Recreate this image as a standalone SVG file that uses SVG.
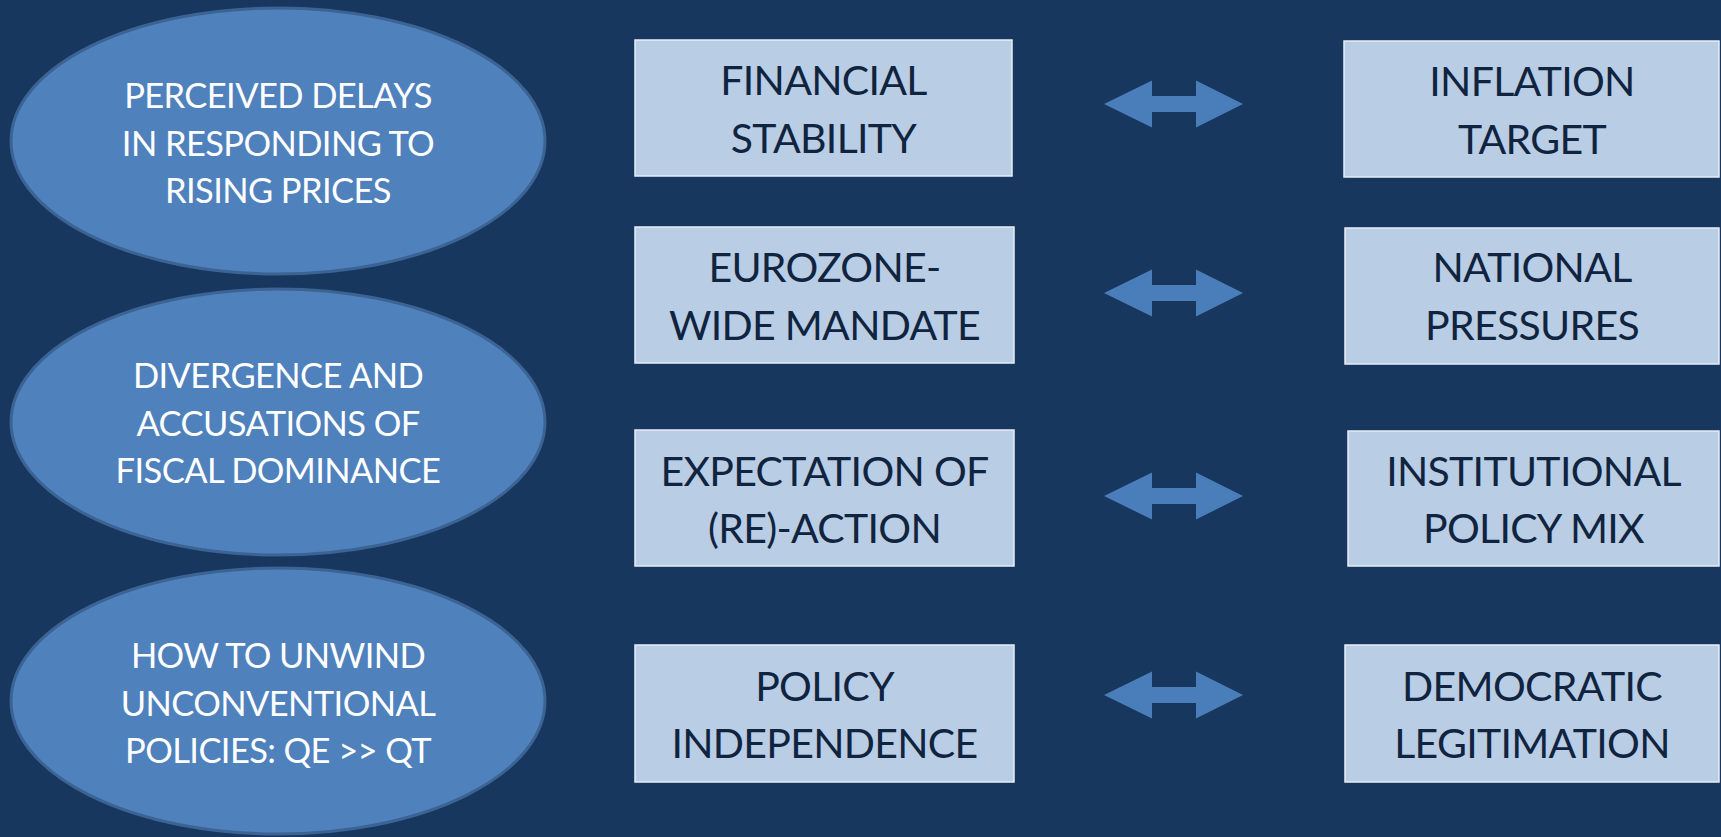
<svg xmlns="http://www.w3.org/2000/svg" xmlns:xlink="http://www.w3.org/1999/xlink" width="1721" height="837" viewBox="0 0 1721 837">
  <style>
    .issue { fill: #4f81bd; stroke: #3b6393; stroke-width: 3; }
    .issue-text { font-family: Lato, "Open Sans", "DejaVu Sans", sans-serif; font-size: 34.5px; letter-spacing: -0.6px; fill: #ffffff; text-anchor: middle; }
    .box { fill: #b9cde5; stroke: #e6eef8; stroke-width: 1.5; }
    .box-text { font-family: Lato, "Open Sans", "DejaVu Sans", sans-serif; font-size: 41px; letter-spacing: -0.7px; fill: #10243f; text-anchor: middle; }
    .tension { fill: #4a7ebb; }
  </style>
  <defs>
    <!-- double-headed block arrow, centred vertically on y=0 -->
    <path id="dbl-arrow" class="tension" d="M1104,0 L1152,-23.5 L1152,-8 L1196,-8 L1196,-23.5 L1243,0 L1196,23.5 L1196,8 L1152,8 L1152,23.5 Z"/>
  </defs>

  <rect x="0" y="0" width="1721" height="837" fill="#18375e"/>

  <!-- issue ellipses -->
  <g id="issue-delays">
    <ellipse class="issue" cx="278" cy="141" rx="267" ry="133"/>
    <text class="issue-text" x="278" y="108">PERCEIVED DELAYS</text>
    <text class="issue-text" x="278" y="156">IN RESPONDING TO</text>
    <text class="issue-text" x="278" y="203">RISING PRICES</text>
  </g>
  <g id="issue-divergence">
    <ellipse class="issue" cx="278" cy="422" rx="267" ry="133"/>
    <text class="issue-text" x="278" y="388">DIVERGENCE AND</text>
    <text class="issue-text" x="278" y="436">ACCUSATIONS OF</text>
    <text class="issue-text" x="278" y="483">FISCAL DOMINANCE</text>
  </g>
  <g id="issue-unwind">
    <ellipse class="issue" cx="278" cy="701" rx="267" ry="133"/>
    <text class="issue-text" x="278" y="668">HOW TO UNWIND</text>
    <text class="issue-text" x="278" y="716">UNCONVENTIONAL</text>
    <text class="issue-text" x="278" y="763">POLICIES: QE &gt;&gt; QT</text>
  </g>

  <!-- left column -->
  <g id="financial-stability">
    <rect class="box" x="635" y="40" width="377" height="136"/>
    <text class="box-text" x="823.5" y="95">FINANCIAL</text>
    <text class="box-text" x="823.5" y="153">STABILITY</text>
  </g>
  <g id="eurozone-mandate">
    <rect class="box" x="635" y="227" width="379" height="136"/>
    <text class="box-text" x="824.5" y="282">EUROZONE-</text>
    <text class="box-text" x="824.5" y="340">WIDE MANDATE</text>
  </g>
  <g id="expectation">
    <rect class="box" x="635" y="430" width="379" height="136"/>
    <text class="box-text" x="824.5" y="486">EXPECTATION OF</text>
    <text class="box-text" x="824.5" y="543">(RE)-ACTION</text>
  </g>
  <g id="policy-independence">
    <rect class="box" x="635" y="645" width="379" height="137"/>
    <text class="box-text" x="824.5" y="701">POLICY</text>
    <text class="box-text" x="824.5" y="758">INDEPENDENCE</text>
  </g>

  <!-- right column -->
  <g id="inflation-target">
    <rect class="box" x="1344" y="41" width="375" height="136"/>
    <text class="box-text" x="1532" y="96">INFLATION</text>
    <text class="box-text" x="1532" y="154">TARGET</text>
  </g>
  <g id="national-pressures">
    <rect class="box" x="1345" y="228" width="374" height="136"/>
    <text class="box-text" x="1532" y="282">NATIONAL</text>
    <text class="box-text" x="1532" y="340">PRESSURES</text>
  </g>
  <g id="policy-mix">
    <rect class="box" x="1348" y="431" width="371" height="135"/>
    <text class="box-text" x="1533.5" y="486">INSTITUTIONAL</text>
    <text class="box-text" x="1533.5" y="543">POLICY MIX</text>
  </g>
  <g id="democratic-legitimation">
    <rect class="box" x="1345" y="645" width="374" height="137"/>
    <text class="box-text" x="1532" y="701">DEMOCRATIC</text>
    <text class="box-text" x="1532" y="758">LEGITIMATION</text>
  </g>

  <!-- connectors: trade-off arrows between the two columns -->
  <g id="connectors">
    <use xlink:href="#dbl-arrow" transform="translate(0,104)"/>
    <use xlink:href="#dbl-arrow" transform="translate(0,293)"/>
    <use xlink:href="#dbl-arrow" transform="translate(0,496)"/>
    <use xlink:href="#dbl-arrow" transform="translate(0,695)"/>
  </g>
</svg>
